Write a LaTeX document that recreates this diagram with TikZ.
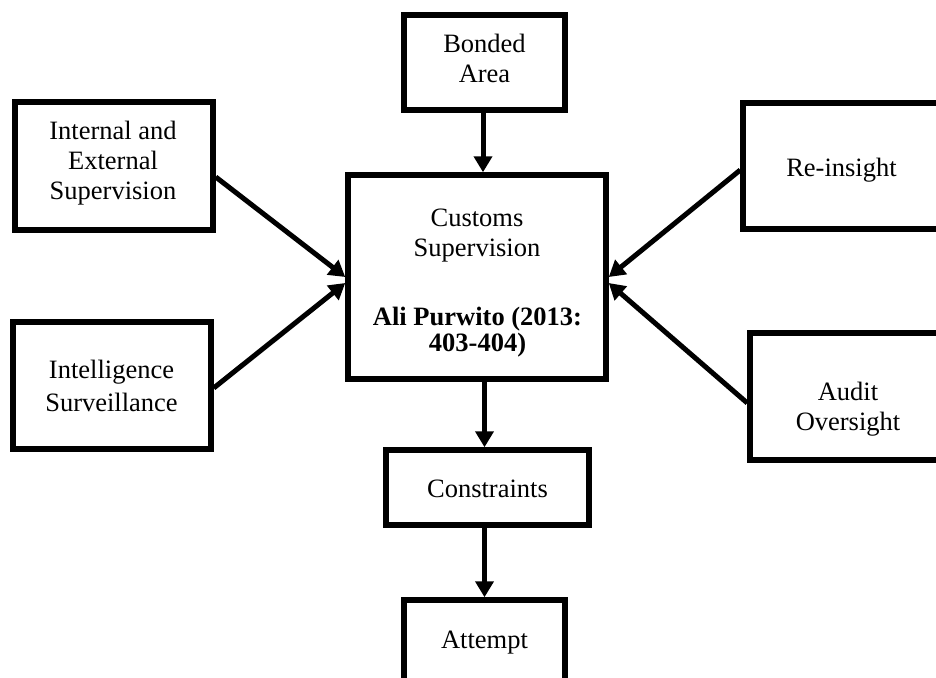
\documentclass[tikz,border=0pt]{standalone}
\usepackage{fontspec}
\setmainfont{Liberation Serif}
\usetikzlibrary{arrows.meta,calc}
\begin{document}
\begin{tikzpicture}[x=1pt,y=-1pt,
  boxnode/.style={draw=black,line width=5.5pt,inner sep=0pt,rectangle},
  txt/.style={inner sep=0pt,anchor=base,font=\fontsize{26.5pt}{30pt}\selectfont},
  btxt/.style={txt,font=\fontsize{26.5pt}{30pt}\selectfont\bfseries},
  arr/.style={line width=5pt,-{Triangle[width=18pt,length=16pt]}}]
\useasboundingbox (0,0) rectangle (936,677);
\clip (0,0) rectangle (936,677);
% boxes
\node[boxnode,minimum width=161pt,minimum height=95pt] (bonded) at (484.5,62.5) {};
\node[boxnode,minimum width=258pt,minimum height=204pt] (cs) at (477,277) {};
\node[boxnode,minimum width=198pt,minimum height=128pt] (int) at (114,166) {};
\node[boxnode,minimum width=198pt,minimum height=127pt] (intel) at (112,385.5) {};
\node[boxnode,minimum width=200pt,minimum height=126pt] (rein) at (843,166) {};
\node[boxnode,minimum width=196pt,minimum height=127pt] (audit) at (848,396.5) {};
\node[boxnode,minimum width=203pt,minimum height=75pt] (con) at (487.5,487.5) {};
\node[boxnode,minimum width=161pt,minimum height=84pt] (att) at (484.5,642) {};
% texts
\node[txt] (tb1) at (484.5,52.7) {Bonded};
\node[txt] (tb2) at (484.5,82.7) {Area};
\node[txt] (tc1) at (477,226) {Customs};
\node[txt] (tc2) at (477,256) {Supervision};
\node[btxt] (tc3) at (477.5,325.5) {Ali Purwito (2013:};
\node[btxt] (tc4) at (477.5,351.5) {403-404)};
\node[txt] (ti1) at (113,139.3) {Internal and};
\node[txt] (ti2) at (113,169.3) {External};
\node[txt] (ti3) at (113,199.5) {Supervision};
\node[txt] (tl1) at (111.5,378.3) {Intelligence};
\node[txt] (tl2) at (111.5,411.5) {Surveillance};
\node[txt] (tr1) at (841.5,176.7) {Re-insight};
\node[txt] (ta1) at (848,400) {Audit};
\node[txt] (ta2) at (848,430) {Oversight};
\node[txt] (tk1) at (487.5,497.3) {Constraints};
\node[txt] (tt1) at (484.5,648.7) {Attempt};
% connectors
\draw[arr] ([xshift=-1.5pt]bonded.south) -- ([xshift=-1.5pt]bonded.south |- cs.north);
\draw[arr] (cs.south -| bonded.south) -- (con.north -| bonded.south);
\draw[arr] (con.south -| bonded.south) -- (att.north -| bonded.south);
\draw[arr] ([yshift=-11pt]int.east) -- (cs.west);
\draw[arr] ([yshift=-2.5pt]intel.east) -- ([yshift=-6pt]cs.west);
\draw[arr] ([yshift=-4pt]rein.west) -- (cs.east);
\draw[arr] ([yshift=-6.5pt]audit.west) -- ([yshift=-6pt]cs.east);
\end{tikzpicture}
\end{document}
